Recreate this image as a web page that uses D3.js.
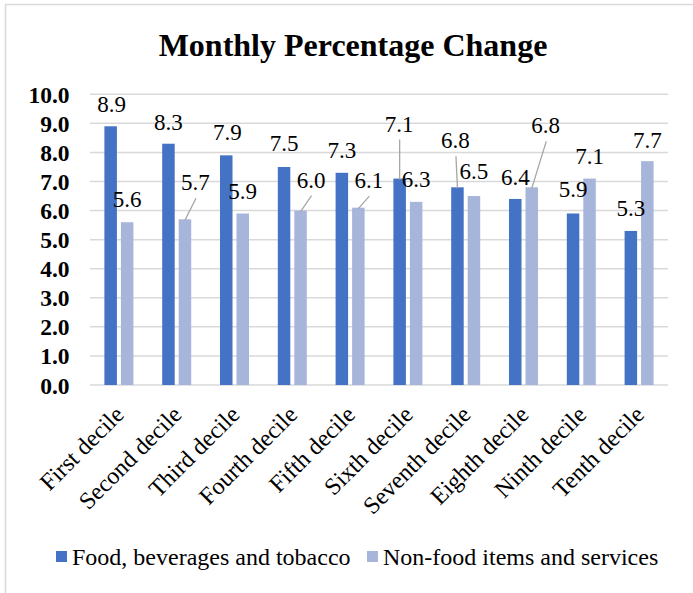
<!DOCTYPE html>
<html>
<head>
<meta charset="utf-8">
<script src="https://cdn.jsdelivr.net/npm/d3@7/dist/d3.min.js"></script>
<style>
  html, body { margin: 0; padding: 0; background: #fff; }
  svg { display: block; }
</style>
</head>
<body>
<svg id="chart" width="693" height="593"></svg>
<script>
// ---- data ----
const categories = ["First decile", "Second decile", "Third decile", "Fourth decile", "Fifth decile",
  "Sixth decile", "Seventh decile", "Eighth decile", "Ninth decile", "Tenth decile"];
const seriesNames = ["Food, beverages and tobacco", "Non-food items and services"];
const foodValues = [8.9, 8.3, 7.9, 7.5, 7.3, 7.1, 6.8, 6.4, 5.9, 5.3];
const nonFoodValues = [5.6, 5.7, 5.9, 6.0, 6.1, 6.3, 6.5, 6.8, 7.1, 7.7];
const yTicks = [0, 1, 2, 3, 4, 5, 6, 7, 8, 9, 10];
const title = "Monthly Percentage Change";

// ---- layout / style ----
const W = 693, H = 593;
const FONT = '"Liberation Serif", "Times New Roman", Tinos, serif';
const plot = { left: 90, right: 668, top: 94.3, bottom: 385 };
const colors = ["#4472C4", "#A8B5DB"];
// manual data-label nudges (px, relative to bar top centre)
const labelNudge = [
  [[1,-22],[0,-21.5],[1,-23],[0,-24],[0,-22.6],[-0.5,-55],[-2,-47],[0,-22],[0,-25],[0,-23]],
  [[0,-23],[10.5,-37],[0,-23],[10.5,-31],[10.5,-27.5],[0,-23],[0,-25],[14,-62],[0,-23],[0,-21]]
];

const svg = d3.select("#chart");

// outer frame
svg.append("rect").attr("x", 5.5).attr("y", 4.5).attr("width", W + 10).attr("height", H + 10)
  .attr("fill", "#fff").attr("stroke", "#d9d9d9").attr("stroke-width", 1.5);

const x0 = d3.scaleBand().domain(categories).range([plot.left, plot.right]).padding(0);
const bw = x0.bandwidth();
const x1 = d3.scaleBand().domain(seriesNames).range([bw / 2 - 14.5, bw / 2 + 14.5])
  .paddingInner(0.2424).paddingOuter(0);
const y = d3.scaleLinear().domain([0, 10]).range([plot.bottom, plot.top]);

// gridlines
svg.append("g").selectAll("line").data(yTicks).join("line")
  .attr("x1", plot.left).attr("x2", plot.right)
  .attr("y1", d => y(d)).attr("y2", d => y(d))
  .attr("stroke", "#d9d9d9").attr("stroke-width", 1.5);

// y axis labels
const yAxis = d3.axisLeft(y).tickValues(yTicks).tickFormat(d3.format(".1f")).tickSize(0).tickPadding(0);
const gy = svg.append("g").attr("transform", `translate(${69.5},0)`).call(yAxis);
gy.select(".domain").remove();
gy.selectAll("text").style("font-family", FONT).attr("font-size", 23.5)
  .attr("font-weight", "bold").attr("fill", "#000").attr("dy", "0.34em");

// bars
const allSeries = [foodValues, nonFoodValues];
allSeries.forEach((vals, s) => {
  svg.append("g").selectAll("rect").data(vals).join("rect")
    .attr("x", (d, i) => x0(categories[i]) + x1(seriesNames[s]))
    .attr("width", x1.bandwidth())
    .attr("y", d => y(d))
    .attr("height", d => y(0) - y(d))
    .attr("fill", colors[s]);
});

// data labels + leader lines
allSeries.forEach((vals, s) => {
  const g = svg.append("g");
  vals.forEach((v, i) => {
    const bx = x0(categories[i]) + x1(seriesNames[s]) + x1.bandwidth() / 2;
    const by = y(v);
    const [dx, dy] = labelNudge[s][i];
    const lx = bx + dx, ly = by + dy;
    if (Math.hypot(dx, dy) > 28) {
      g.append("line").attr("x1", lx + 0.5).attr("y1", ly + 16)
        .attr("x2", bx).attr("y2", by + 1)
        .attr("stroke", "#a6a6a6").attr("stroke-width", 1.3);
    }
    g.append("text").attr("x", lx).attr("y", ly).attr("dy", "0.35em")
      .attr("text-anchor", "middle").style("font-family", FONT).attr("font-size", 23).attr("fill", "#000")
      .text(d3.format(".1f")(v));
  });
});

// x axis labels (rotated)
svg.append("g").selectAll("text").data(categories).join("text")
  .attr("transform", d => `translate(${x0(d) + bw / 2 + 0.5},${410}) rotate(-45)`)
  .attr("text-anchor", "end").attr("dy", "0.35em")
  .style("font-family", FONT).attr("font-size", 24).attr("fill", "#000")
  .text(d => d);

// title
svg.append("text").attr("x", 353).attr("y", 45).attr("dy", "0.35em")
  .attr("text-anchor", "middle").style("font-family", FONT).attr("font-size", 32).attr("font-weight", "bold")
  .attr("fill", "#000").text(title);

// legend
const legend = svg.append("g");
const legendX = [56, 367];
seriesNames.forEach((name, s) => {
  legend.append("rect").attr("x", legendX[s]).attr("y", 551).attr("width", 11).attr("height", 11)
    .attr("fill", colors[s]);
  legend.append("text").attr("x", legendX[s] + 16).attr("y", 557).attr("dy", "0.35em")
    .style("font-family", FONT).attr("font-size", 24).attr("fill", "#000").text(name);
});
</script>
</body>
</html>
